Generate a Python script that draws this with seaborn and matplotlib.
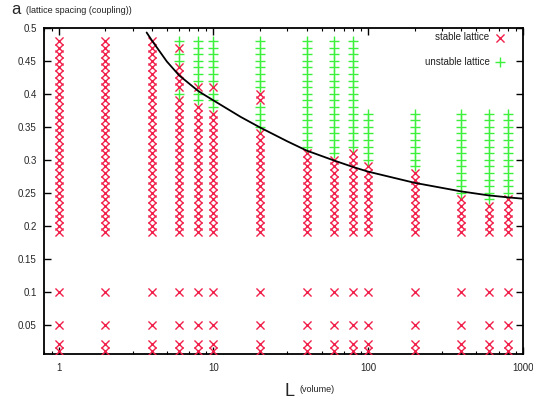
import numpy as np
import pandas as pd
import matplotlib
matplotlib.use("Agg")
import matplotlib.pyplot as plt
import seaborn as sns
from matplotlib.ticker import FixedLocator, FixedFormatter, LogLocator, NullFormatter

# --- data ---
L_values = [1, 2, 4, 6, 8, 10, 20, 40, 60, 80, 100, 200, 400, 600, 800]

# coupling grid that was scanned (upper block)
a_grid = [0.19, 0.20, 0.21, 0.22, 0.23, 0.24, 0.25, 0.26, 0.27, 0.28,
          0.29, 0.30, 0.31, 0.32, 0.33, 0.34, 0.35, 0.36, 0.37, 0.38,
          0.39, 0.40, 0.41, 0.42, 0.43, 0.44, 0.45, 0.46, 0.47, 0.48]
# extra low couplings, stable everywhere
a_low = [0.01, 0.02, 0.05, 0.10]

# highest scanned coupling per volume
a_top = [0.48, 0.48, 0.48, 0.48, 0.48, 0.48, 0.48, 0.48, 0.48, 0.48,
         0.37, 0.37, 0.37, 0.37, 0.37]

# couplings flagged unstable per volume
unstable_a = {
    1: [], 2: [], 4: [],
    6: [0.48, 0.46, 0.45, 0.40],
    8: [0.48, 0.47, 0.46, 0.45, 0.44, 0.43, 0.42, 0.40, 0.39],
    10: [0.48, 0.47, 0.46, 0.45, 0.44, 0.43, 0.42, 0.40, 0.39, 0.38],
    20: [0.48, 0.47, 0.46, 0.45, 0.44, 0.43, 0.42, 0.41, 0.38, 0.37, 0.36, 0.35],
    40: [0.48, 0.47, 0.46, 0.45, 0.44, 0.43, 0.42, 0.41, 0.40, 0.39, 0.38,
         0.37, 0.36, 0.35, 0.34, 0.33, 0.32],
    60: [0.48, 0.47, 0.46, 0.45, 0.44, 0.43, 0.42, 0.41, 0.40, 0.39, 0.38,
         0.37, 0.36, 0.35, 0.34, 0.33, 0.32, 0.31],
    80: [0.48, 0.47, 0.46, 0.45, 0.44, 0.43, 0.42, 0.41, 0.40, 0.39, 0.38,
         0.37, 0.36, 0.35, 0.34, 0.33, 0.32],
    100: [0.37, 0.36, 0.35, 0.34, 0.33, 0.32, 0.31, 0.30],
    200: [0.37, 0.36, 0.35, 0.34, 0.33, 0.32, 0.31, 0.30, 0.29],
    400: [0.37, 0.36, 0.35, 0.34, 0.33, 0.32, 0.31, 0.30, 0.29, 0.28, 0.27, 0.26, 0.25],
    600: [0.37, 0.36, 0.35, 0.34, 0.33, 0.32, 0.31, 0.30, 0.29, 0.28, 0.27, 0.26, 0.25, 0.24],
    800: [0.37, 0.36, 0.35, 0.34, 0.33, 0.32, 0.31, 0.30, 0.29, 0.28, 0.27, 0.26, 0.25],
}

# stability boundary curve
curve_L = [3.7, 4, 5, 6, 8, 10, 15, 20, 30, 40, 60, 80, 100, 200, 400, 600, 800, 1000]
curve_a = [0.493, 0.481, 0.449, 0.428, 0.404, 0.390, 0.365, 0.349, 0.328, 0.314,
           0.299, 0.289, 0.282, 0.265, 0.252, 0.246, 0.243, 0.241]

ytick_vals = [0.05, 0.1, 0.15, 0.2, 0.25, 0.3, 0.35, 0.4, 0.45, 0.5]
ytick_labels = ["0.05", "0.1", "0.15", "0.2", "0.25", "0.3", "0.35", "0.4", "0.45", "0.5"]
xtick_vals = [1, 10, 100, 1000]
xtick_labels = ["1", "10", "100", "1000"]

# --- build long table ---
rows = []
for L, top in zip(L_values, a_top):
    unst = [round(v, 2) for v in unstable_a[L]]
    for a in a_grid:
        a = round(a, 2)
        if a > top:
            continue
        rows.append({"L": L, "a": a, "state": "unstable lattice" if a in unst else "stable lattice"})
    for a in a_low:
        rows.append({"L": L, "a": a, "state": "stable lattice"})
df = pd.DataFrame(rows)

# --- plot ---
sns.set_style("ticks")
plt.rcParams["font.family"] = ["Liberation Sans", "DejaVu Sans"]

fig = plt.figure(figsize=(5.33, 4.04), dpi=100)
ax = fig.add_axes([0.082, 0.123, 0.899, 0.808])

red = "#f0204a"
green = "#3cf03c"

sns.scatterplot(data=df[df.state == "stable lattice"], x="L", y="a", marker="x",
                color=red, s=34, linewidth=1.0, label="stable lattice", ax=ax, zorder=3)
sns.scatterplot(data=df[df.state == "unstable lattice"], x="L", y="a", marker="+",
                color=green, s=46, linewidth=1.0, label="unstable lattice", ax=ax, zorder=3)
sns.lineplot(x=curve_L, y=curve_a, color="black", linewidth=1.3, estimator=None,
             sort=False, ax=ax, zorder=4)

ax.set_xscale("log")
ax.set_xlim(0.8, 1000)
ax.set_ylim(0.005, 0.5)

ax.xaxis.set_major_locator(FixedLocator(xtick_vals))
ax.xaxis.set_major_formatter(FixedFormatter(xtick_labels))
ax.xaxis.set_minor_locator(LogLocator(base=10, subs=np.arange(2, 10)))
ax.xaxis.set_minor_formatter(NullFormatter())
ax.yaxis.set_major_locator(FixedLocator(ytick_vals))
ax.yaxis.set_major_formatter(FixedFormatter(ytick_labels))

ax.tick_params(which="both", direction="in", top=True, right=True, labelsize=7, color="black")
ax.tick_params(which="major", length=5, width=1)
ax.tick_params(which="minor", length=2.5, width=0.8)
ax.tick_params(axis="x", pad=6)
ax.tick_params(axis="y", pad=5)
for sp in ax.spines.values():
    sp.set_linewidth(1.3)
    sp.set_color("black")
    sp.set_visible(True)

ax.set_xlabel("")
ax.set_ylabel("")

leg = ax.legend(loc="upper right", bbox_to_anchor=(0.967, 0.993), frameon=False,
                markerfirst=False, fontsize=7, labelspacing=1.5, handlelength=1.0,
                handletextpad=0.6, borderaxespad=0.0, borderpad=0.2)
for t in leg.get_texts():
    t.set_color("#222222")

fig.text(11 / 533, 1 - 14 / 404, "a", fontsize=12, va="baseline", ha="left")
fig.text(26 / 533, 1 - 13 / 404, "(lattice spacing (coupling))", fontsize=6.5,
         va="baseline", ha="left", color="#222222")
fig.text(284 / 533, 1 - 396 / 404, "L", fontsize=13, va="baseline", ha="left")
fig.text(300 / 533, 1 - 394 / 404 + 0.005, "(volume)", fontsize=6.5,
         va="baseline", ha="left", color="#222222")

fig.savefig("out.png", dpi=100)
plt.close(fig)
